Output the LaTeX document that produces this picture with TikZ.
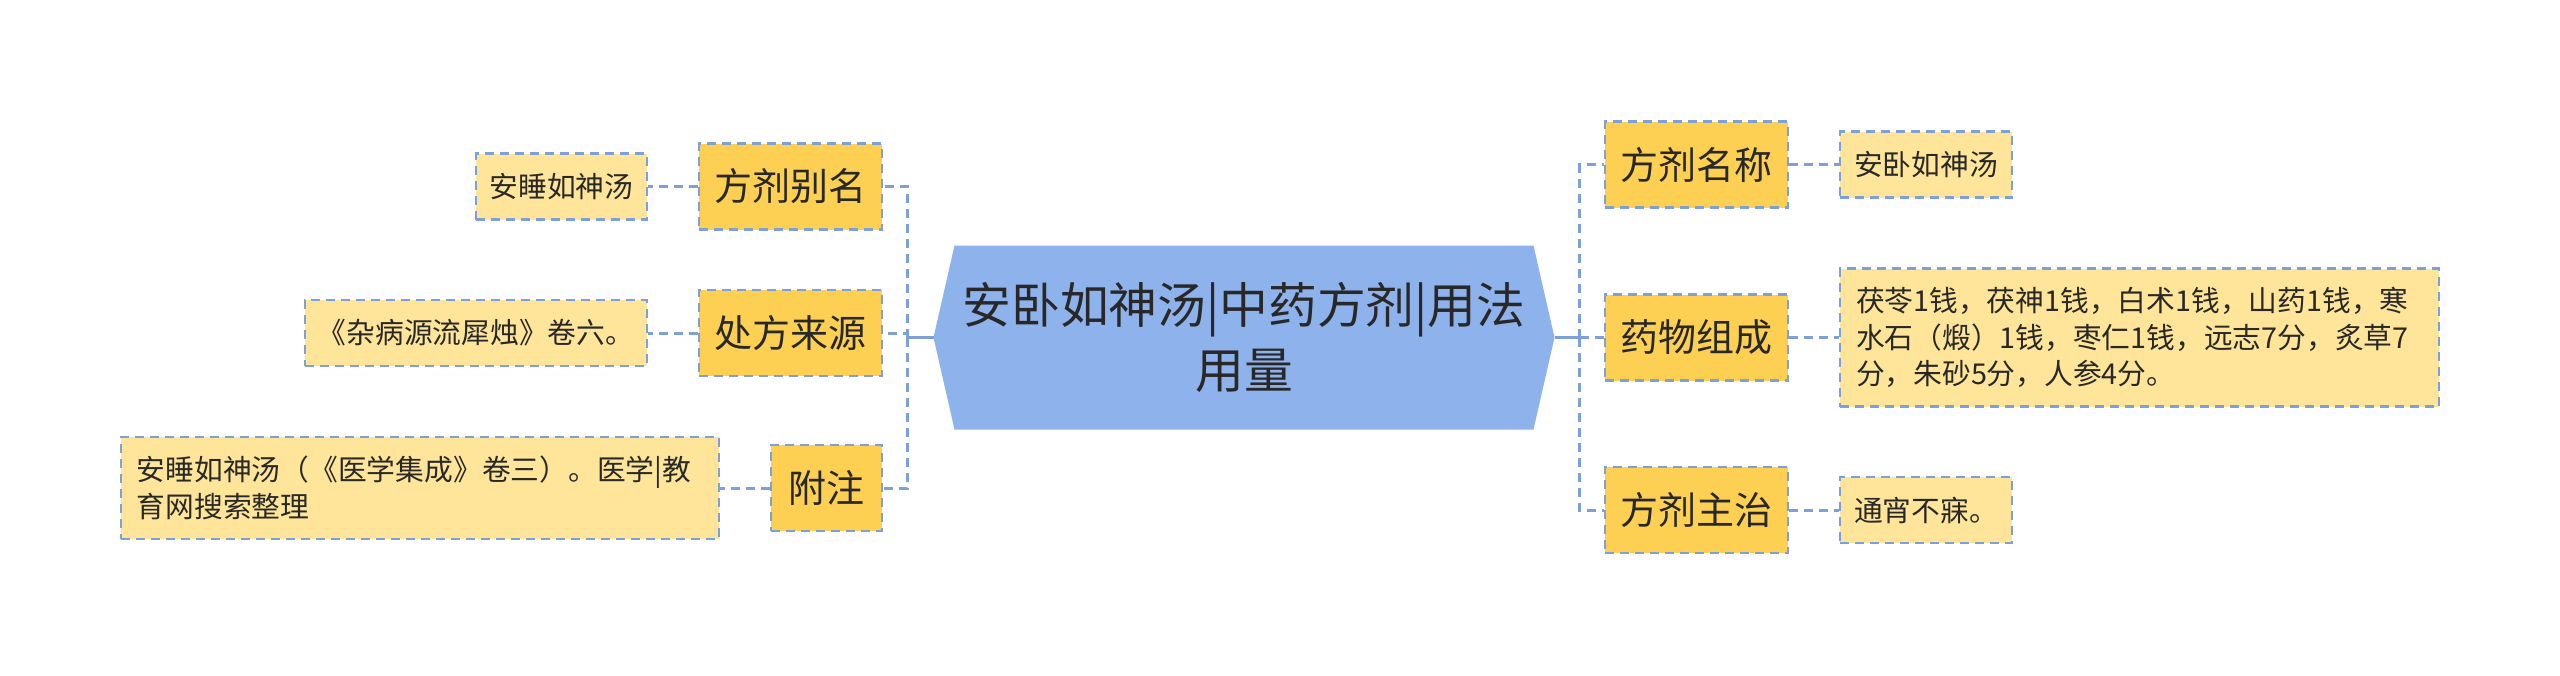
\documentclass[tikz,border=0pt]{standalone}
\usepackage{fontspec}
\setmainfont{Noto Sans CJK SC}
\usetikzlibrary{backgrounds,calc}
\definecolor{hexfill}{RGB}{142,178,235}
\definecolor{gold}{RGB}{253,208,83}
\definecolor{lightgold}{RGB}{255,229,153}
\definecolor{bord}{RGB}{126,160,216}
\definecolor{txt}{RGB}{40,40,40}
\tikzset{
  every node/.style={text=txt},
  boxline/.style={draw=bord, line width=1pt, dash pattern=on 3.6pt off 2.4pt},
  branch/.style={boxline, fill=gold, minimum width=73.2pt, minimum height=34.4pt, inner sep=0pt, font=\fontsize{15.2}{18}\selectfont},
  leaf/.style={boxline, fill=lightgold, minimum height=26.4pt, inner sep=0pt, font=\fontsize{11.5}{14.7}\selectfont},
  multileaf/.style={leaf, align=left, inner xsep=6.4pt, inner ysep=0pt},
  centertext/.style={minimum width=248pt, minimum height=73.2pt, inner sep=0pt, align=center, font=\fontsize{19.5}{26}\selectfont},
  conn/.style={draw=bord, line width=1.2pt, dash pattern=on 3.6pt off 2.4pt},
  stub/.style={draw=bord, line width=1.2pt},
}
\begin{document}
\begin{tikzpicture}[x=0.4pt, y=-0.4pt]
\useasboundingbox (0,0) rectangle (2560,675);
% center
\node[centertext] (c) at (1244,337.5) {安卧如神汤|中药方剂|用法\\用量};
\begin{scope}[on background layer]
\fill[hexfill] (c.west) -- ($(c.north west)+(21,0)$) -- ($(c.north east)+(-21,0)$) -- (c.east)
  -- ($(c.south east)+(-21,0)$) -- ($(c.south west)+(21,0)$) -- cycle;
\end{scope}
% left branches
\node[branch] (b1) at (790.5,186.5) {方剂别名};
\node[branch] (b2) at (790.5,333) {处方来源};
\node[branch, minimum width=44.4pt] (b3) at (826.5,488) {附注};
% left leaves
\node[leaf, minimum width=68.4pt] (l1) at (561.5,186.5) {安睡如神汤};
\node[leaf, minimum width=136.8pt] (l2) at (476,333) {《杂病源流犀烛》卷六。};
\node[multileaf, text width=226.4pt, minimum height=40.8pt] (l3) at (420,488) {安睡如神汤（《医学集成》卷三）。医学|教\\育网搜索整理};
% right branches
\node[branch] (r1) at (1696.5,164.5) {方剂名称};
\node[branch] (r2) at (1696.5,337.5) {药物组成};
\node[branch] (r3) at (1696.5,510) {方剂主治};
% right leaves
\node[leaf, minimum width=68.8pt] (s1) at (1926,164.5) {安卧如神汤};
\node[multileaf, text width=226.8pt, minimum height=55.2pt] (s2) at (2139.5,337.5) {茯苓1钱，茯神1钱，白术1钱，山药1钱，寒\\水石（煅）1钱，枣仁1钱，远志7分，炙草7\\分，朱砂5分，人参4分。};
\node[leaf, minimum width=68.8pt] (s3) at (1926,510) {通宵不寐。};
% connectors
\coordinate (jl) at ([xshift=-10.4pt]c.west);
\coordinate (jr) at ([xshift=10pt]c.east);
\draw[stub] (c.west) -- (jl);
\draw[stub] (c.east) -- (jr);
\draw[conn] (jl) |- (b1.east);
\draw[conn] (jl) |- (b2.east);
\draw[conn] (jl) |- (b3.east);
\draw[conn] (jr) |- (r1.west);
\draw[conn] (jr) |- (r2.west);
\draw[conn] (jr) |- (r3.west);
\draw[conn] (b1.west) -- (b1.west -| l1.east);
\draw[conn] (b2.west) -- (b2.west -| l2.east);
\draw[conn] (b3.west) -- (b3.west -| l3.east);
\draw[conn] (r1.east) -- (r1.east -| s1.west);
\draw[conn] (r2.east) -- (r2.east -| s2.west);
\draw[conn] (r3.east) -- (r3.east -| s3.west);
\end{tikzpicture}
\end{document}
